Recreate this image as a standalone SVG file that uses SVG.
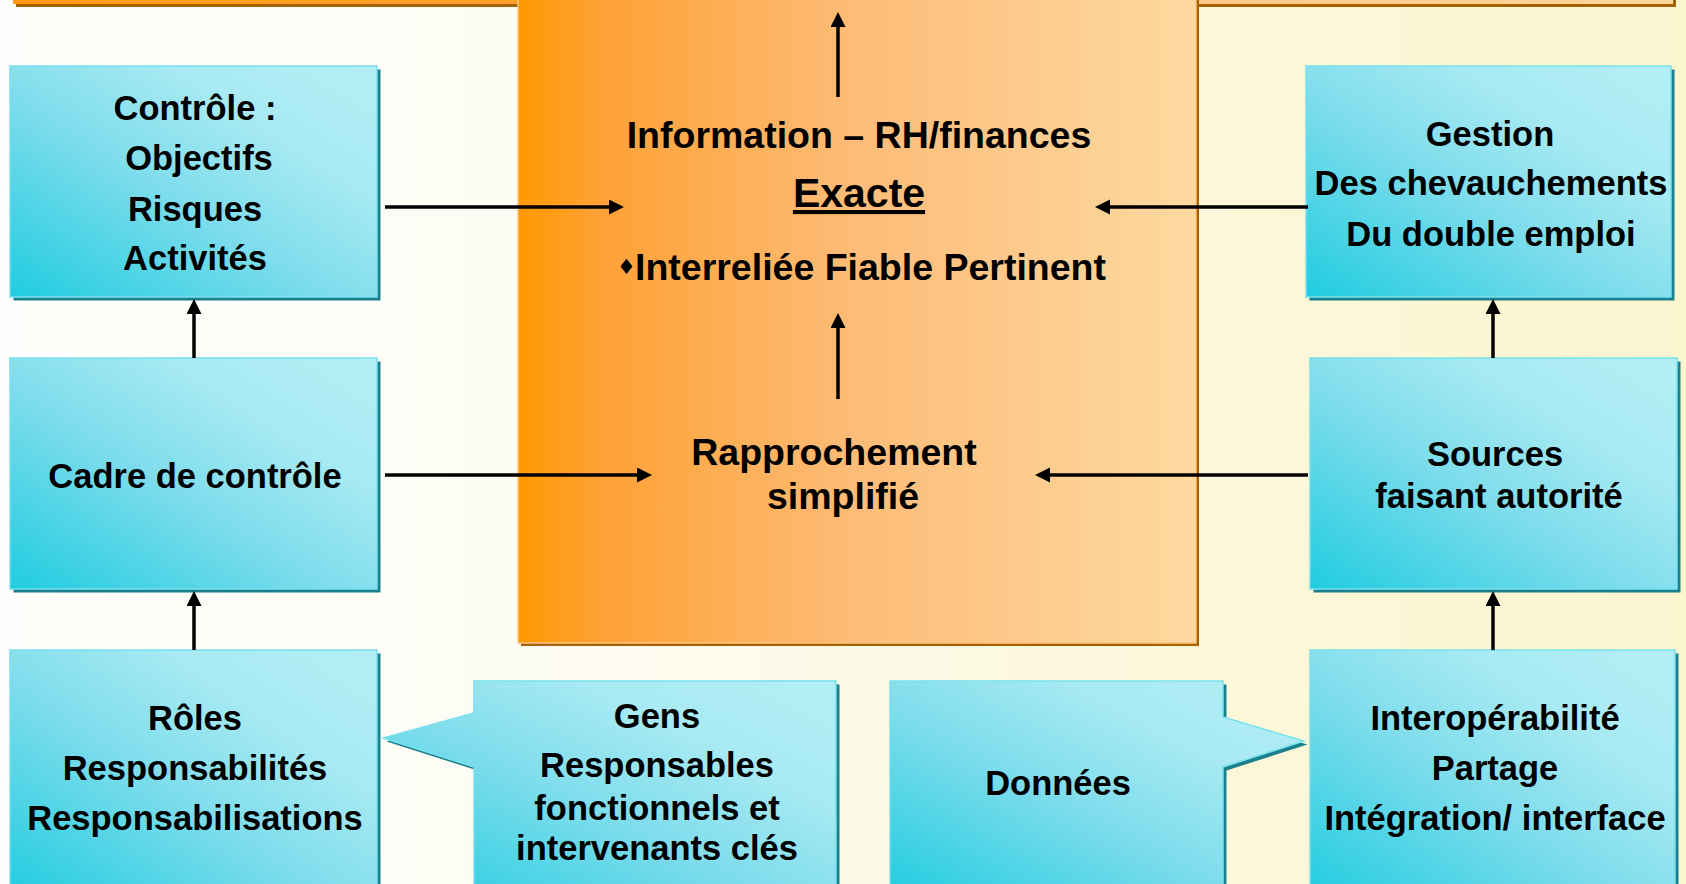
<svg xmlns="http://www.w3.org/2000/svg" width="1686" height="884" viewBox="0 0 1686 884">
  <defs>
    <linearGradient id="bg" x1="0" y1="0" x2="1686" y2="0" gradientUnits="userSpaceOnUse">
      <stop offset="0" stop-color="#FEFEFC"/>
      <stop offset="0.3" stop-color="#FDFCF4"/>
      <stop offset="0.7" stop-color="#FCF7DA"/>
      <stop offset="1" stop-color="#FBF5D0"/>
    </linearGradient>
    <linearGradient id="orangeTop" x1="13" y1="0" x2="1673" y2="0" gradientUnits="userSpaceOnUse">
      <stop offset="0" stop-color="#FF9A10"/>
      <stop offset="0.35" stop-color="#FFA030"/>
      <stop offset="0.7" stop-color="#FDC888"/>
      <stop offset="1" stop-color="#FDD69C"/>
    </linearGradient>
    <linearGradient id="orange" x1="518" y1="0" x2="1196" y2="0" gradientUnits="userSpaceOnUse">
      <stop offset="0" stop-color="#FF9900"/>
      <stop offset="0.12" stop-color="#FEA135"/>
      <stop offset="0.5" stop-color="#FDBC78"/>
      <stop offset="1" stop-color="#FDD9A0"/>
    </linearGradient>
    <linearGradient id="cyan" x1="0" y1="1" x2="1" y2="0">
      <stop offset="0" stop-color="#20CCE0"/>
      <stop offset="0.45" stop-color="#80DDEC"/>
      <stop offset="0.72" stop-color="#A8EAF3"/>
      <stop offset="1" stop-color="#B4EFF6"/>
    </linearGradient>
    <marker id="arrow" markerUnits="userSpaceOnUse" markerWidth="16" markerHeight="16" viewBox="0 0 16 16" refX="1" refY="7.5" orient="auto">
      <path d="M0,0 L15,7.5 L0,15 Z" fill="#000"/>
    </marker>
    <style>
      .shadow { fill: #1C808C; }
      .box { fill: url(#cyan); stroke: #78E1EF; stroke-width: 1.5; }
      .oshadow { fill: #A66200; }
      .t { font-family: "Liberation Sans", Arial, sans-serif; font-weight: bold; font-size: 34.5px; fill: #000; text-anchor: middle; }
      .tc { font-size: 37.5px; }
      .conn { stroke: #000; stroke-width: 3.5; fill: none; marker-end: url(#arrow); }
    </style>
  </defs>

  <rect x="0" y="0" width="1686" height="884" fill="url(#bg)"/>

  <g id="top-bar">
    <rect class="oshadow" x="16" y="-17" width="1660" height="24"/>
    <rect x="13" y="-20" width="1660" height="24" fill="url(#orangeTop)"/>
  </g>

  <g id="central-panel">
    <rect class="oshadow" x="521" y="-7" width="678" height="653"/>
    <rect x="518" y="-10" width="678" height="653" fill="url(#orange)" stroke="#FFC680" stroke-width="1.5"/>
  </g>

  <g id="info">
    <text class="t tc" x="859" y="148">Information – RH/finances</text>
    <text class="t" x="859" y="207" style="font-size:41px" text-decoration="underline">Exacte</text>
    <text class="t tc" y="280" style="text-anchor:start"><tspan x="617" dy="-6" style="font-family:'DejaVu Sans', sans-serif;font-size:21px">♦</tspan><tspan x="635" dy="6">Interreliée Fiable Pertinent</tspan></text>
  </g>

  <g id="rapprochement">
    <text class="t tc" x="834" y="465">Rapprochement</text>
    <text class="t tc" x="843" y="509">simplifié</text>
  </g>

  <g id="controle">
    <rect class="shadow" x="13.5" y="69.5" width="367" height="231"/>
    <rect class="box" x="10" y="66" width="367" height="231"/>
    <text class="t" x="195" y="120">Contrôle :</text>
    <text class="t" x="199" y="170">Objectifs</text>
    <text class="t" x="195" y="221">Risques</text>
    <text class="t" x="195" y="270">Activités</text>
  </g>

  <g id="cadre">
    <rect class="shadow" x="13.5" y="361.5" width="367" height="231"/>
    <rect class="box" x="10" y="358" width="367" height="231"/>
    <text class="t" x="195" y="488">Cadre de contrôle</text>
  </g>

  <g id="roles">
    <rect class="shadow" x="13.5" y="653.5" width="367" height="250"/>
    <rect class="box" x="10" y="650" width="367" height="250"/>
    <text class="t" x="195" y="730">Rôles</text>
    <text class="t" x="195" y="780">Responsabilités</text>
    <text class="t" x="195" y="830">Responsabilisations</text>
  </g>

  <g id="gens">
    <path class="shadow" transform="translate(3.5,3.5)" d="M474,681 L836,681 L836,900 L474,900 L474,767 L383,738 L474,713 Z"/>
    <path class="box" d="M474,681 L836,681 L836,900 L474,900 L474,767 L383,738 L474,713 Z"/>
    <text class="t" x="657" y="728">Gens</text>
    <text class="t" x="657" y="777">Responsables</text>
    <text class="t" x="657" y="820">fonctionnels et</text>
    <text class="t" x="657" y="860">intervenants clés</text>
  </g>

  <g id="donnees">
    <path class="shadow" transform="translate(3.5,3.5)" d="M890,681 L1223,681 L1223,717 L1304,741 L1223,767 L1223,900 L890,900 Z"/>
    <path class="box" d="M890,681 L1223,681 L1223,717 L1304,741 L1223,767 L1223,900 L890,900 Z"/>
    <text class="t" x="1058" y="795">Données</text>
  </g>

  <g id="gestion">
    <rect class="shadow" x="1309.5" y="69.5" width="365" height="231"/>
    <rect class="box" x="1306" y="66" width="365" height="231"/>
    <text class="t" x="1490" y="146">Gestion</text>
    <text class="t" x="1491" y="195">Des chevauchements</text>
    <text class="t" x="1491" y="246">Du double emploi</text>
  </g>

  <g id="sources">
    <rect class="shadow" x="1313.5" y="361.5" width="367" height="231"/>
    <rect class="box" x="1310" y="358" width="367" height="231"/>
    <text class="t" x="1495" y="466">Sources</text>
    <text class="t" x="1499" y="508">faisant autorité</text>
  </g>

  <g id="interoperabilite">
    <rect class="shadow" x="1313.5" y="653.5" width="365" height="250"/>
    <rect class="box" x="1310" y="650" width="365" height="250"/>
    <text class="t" x="1495" y="730">Interopérabilité</text>
    <text class="t" x="1495" y="780">Partage</text>
    <text class="t" x="1495" y="830">Intégration/ interface</text>
  </g>

  <g id="connectors">
    <line class="conn" x1="385" y1="207" x2="610" y2="207"/>
    <line class="conn" x1="1308" y1="207" x2="1109" y2="207"/>
    <line class="conn" x1="838" y1="97" x2="838" y2="26"/>
    <line class="conn" x1="838" y1="399" x2="838" y2="327"/>
    <line class="conn" x1="385" y1="475" x2="638" y2="475"/>
    <line class="conn" x1="1308" y1="475" x2="1049" y2="475"/>
    <line class="conn" x1="194" y1="358" x2="194" y2="313"/>
    <line class="conn" x1="194" y1="650" x2="194" y2="605"/>
    <line class="conn" x1="1493" y1="358" x2="1493" y2="313"/>
    <line class="conn" x1="1493" y1="650" x2="1493" y2="605"/>
  </g>
</svg>
